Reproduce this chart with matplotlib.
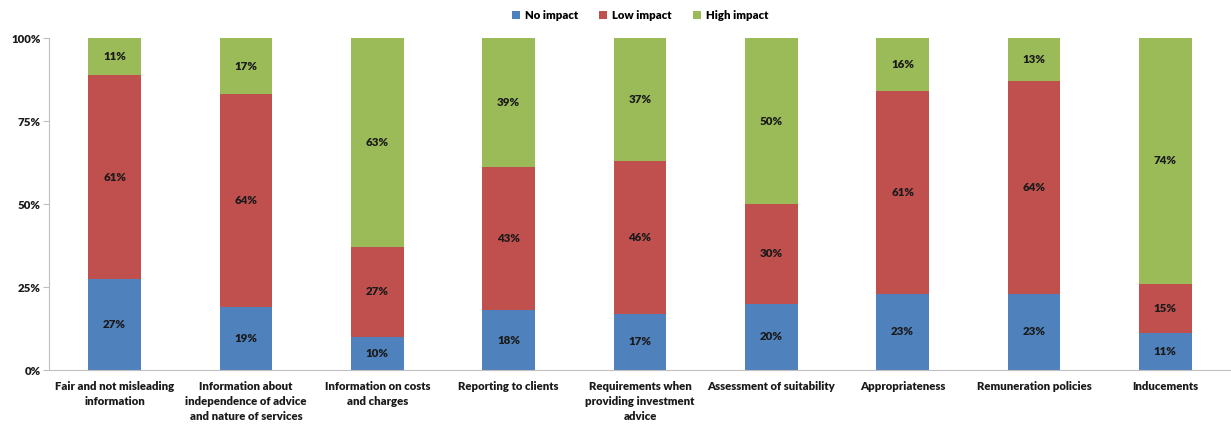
import matplotlib.pyplot as plt
import numpy as np

categories = [
    "Fair and not misleading\ninformation",
    "Information about\nindependence of advice\nand nature of services",
    "Information on costs\nand charges",
    "Reporting to clients",
    "Requirements when\nproviding investment\nadvice",
    "Assessment of suitability",
    "Appropriateness",
    "Remuneration policies",
    "Inducements",
]

no_impact = [27.4, 19, 10, 18, 17, 20, 23, 23, 11]
low_impact = [61.4, 64, 27, 43, 46, 30, 61, 64, 15]
high_impact = [11.2, 17, 63, 39, 37, 50, 16, 13, 74]

series_names = ["No impact", "Low impact", "High impact"]
colors = ["#4F81BD", "#C0504D", "#9BBB59"]

plt.rcParams["font.family"] = ["Lato", "DejaVu Sans"]
plt.rcParams["font.weight"] = "bold"

fig = plt.figure(figsize=(12.31, 4.30), dpi=100)
ax = fig.add_axes([0.0398, 0.1395, 0.9602, 0.7721])

x = np.arange(len(categories))
bottom = np.zeros(len(categories))
for name, values, color in zip(series_names, [no_impact, low_impact, high_impact], colors):
    values = np.array(values, dtype=float)
    ax.bar(x, values, 0.4, bottom=bottom, color=color, label=name)
    for xi, b, v in zip(x, bottom, values):
        ax.text(xi, b + v / 2, f"{v:.0f}%", ha="center", va="center",
                fontsize=8.3, fontweight="heavy", color="#1a1a1a")
    bottom += values

ax.set_xlim(-0.5, len(categories) - 0.5)
ax.set_ylim(0, 100)
ax.set_yticks([0, 25, 50, 75, 100])
ax.set_yticklabels([f"{t}%" for t in [0, 25, 50, 75, 100]])
ax.set_xticks(x)
ax.set_xticklabels(categories, fontsize=8.2, fontweight="heavy", color="#1a1a1a",
                   linespacing=1.45)

for side in ["top", "right"]:
    ax.spines[side].set_visible(False)
for side in ["left", "bottom"]:
    ax.spines[side].set_color("#BFBFBF")
ax.tick_params(axis="x", length=0, pad=8)
ax.tick_params(axis="y", length=4, color="#BFBFBF", labelsize=8.2, labelcolor="#1a1a1a", pad=2)
for lbl in ax.get_yticklabels():
    lbl.set_fontweight("heavy")

leg = ax.legend(loc="upper center", bbox_to_anchor=(0.5, 1.115), ncol=3, frameon=False,
                fontsize=8.2, handlelength=0.7, handleheight=0.7, handletextpad=0.4,
                columnspacing=1.9)
for t in leg.get_texts():
    t.set_fontweight("heavy")

fig.savefig("out.png", dpi=100)
